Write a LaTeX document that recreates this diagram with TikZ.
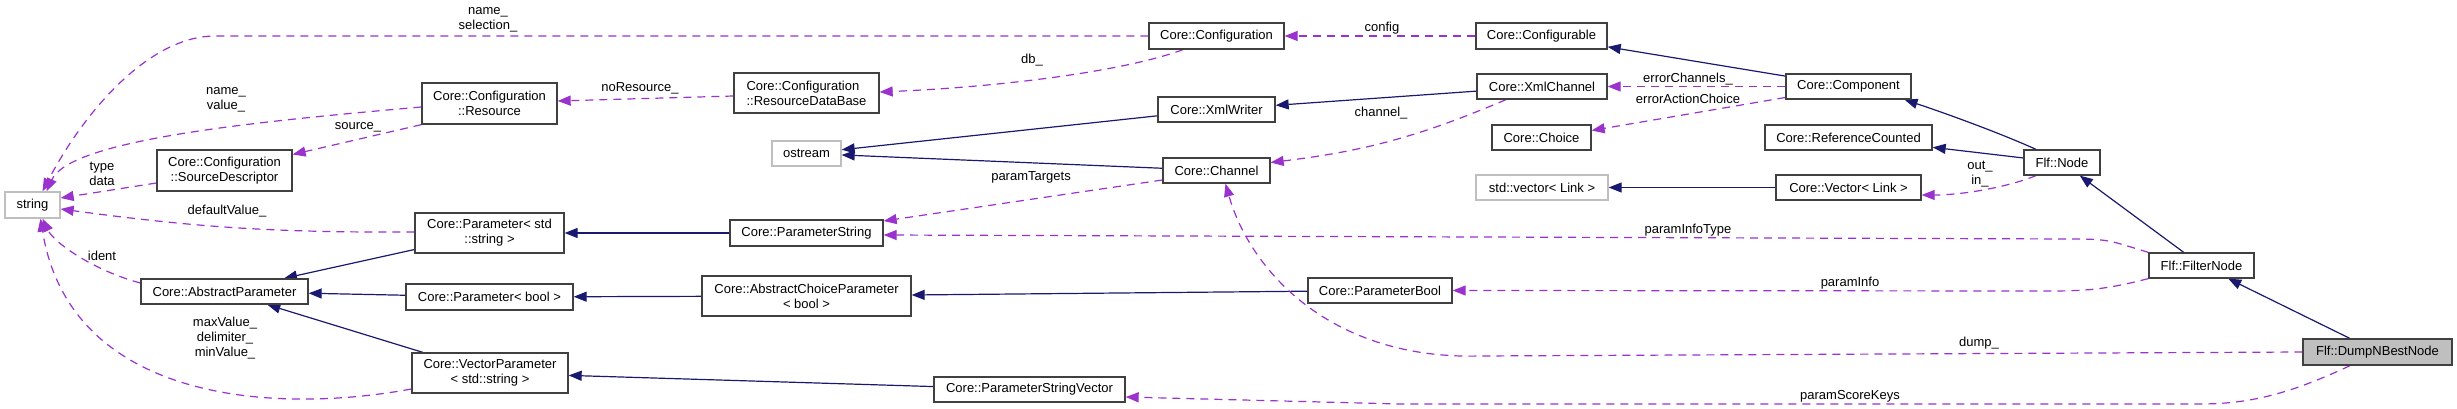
\documentclass[tikz,border=0pt]{standalone}
\usepackage{fontspec}
\setmainfont{Liberation Sans}
\usepackage{xcolor}
\usepackage{tikz}
\usetikzlibrary{arrows.meta}
\usetikzlibrary{backgrounds,positioning}
\pgfdeclarelayer{edgelayer}
\pgfdeclarelayer{nodelayer}
\pgfsetlayers{background,edgelayer,nodelayer,main}
\definecolor{inhblue}{HTML}{191970}
\definecolor{memviolet}{HTML}{9A32CD}
\definecolor{boxline}{HTML}{404040}
\definecolor{extgray}{HTML}{BFBFBF}
\tikzstyle{none}=[inner sep=0mm]
\tikzstyle{cls}=[draw=boxline,line width=1.3pt,fill=white,inner sep=0pt,align=center,font=\fontsize{13}{15}\selectfont]
\tikzstyle{ext}=[cls,draw=extgray]
\tikzstyle{focus}=[cls,fill=extgray]
\tikzstyle{lbl}=[none,align=center,font=\fontsize{13}{15}\selectfont]
\tikzstyle{inh}=[draw=inhblue,line width=1.2pt,-{Triangle[length=13pt,width=10pt]}]
\tikzstyle{mem}=[draw=memviolet,line width=1.2pt,dash pattern=on 8pt off 6pt,-{Triangle[length=13pt,width=10pt]}]

\begin{document}
\begin{tikzpicture}[x=1pt,y=-1pt]
	\useasboundingbox (0,0) rectangle (2457,409);
	\begin{pgfonlayer}{nodelayer}
		\node [style=ext, minimum width=55pt, minimum height=26pt] (string) at (32.5, 205) {string};
		\node [style=cls, minimum width=135pt, minimum height=41pt] (srcdesc) at (224.5, 170.5) {Core::Configuration\\::SourceDescriptor};
		\node [style=cls, minimum width=135pt, minimum height=41pt] (resource) at (489.5, 103.5) {Core::Configuration\\::Resource};
		\node [style=cls, minimum width=149pt, minimum height=40pt] (paramstr) at (489.5, 233) {Core::Parameter< std\\::string >};
		\node [style=cls, minimum width=167pt, minimum height=25pt] (absparam) at (224.5, 291.5) {Core::AbstractParameter};
		\node [style=cls, minimum width=167pt, minimum height=26pt] (parambool) at (489.5, 297) {Core::Parameter< bool >};
		\node [style=cls, minimum width=156pt, minimum height=40pt] (vecparam) at (490, 373) {Core::VectorParameter\\< std::string >};
		\node [style=cls, minimum width=145pt, minimum height=40pt, align=left] (resdb) at (806.5, 93) {Core::Configuration\\::ResourceDataBase};
		\node [style=ext, minimum width=69pt, minimum height=25pt] (ostream) at (806.5, 153.5) {ostream};
		\node [style=cls, minimum width=153pt, minimum height=26pt] (pstring) at (806.5, 233) {Core::ParameterString};
		\node [style=cls, minimum width=209pt, minimum height=40pt] (abschoice) at (806.5, 296) {Core::AbstractChoiceParameter\\< bool >};
		\node [style=cls, minimum width=191pt, minimum height=25pt] (pstrvec) at (1029.5, 389.5) {Core::ParameterStringVector};
		\node [style=cls, minimum width=135pt, minimum height=26pt] (config) at (1216.5, 36) {Core::Configuration};
		\node [style=cls, minimum width=117pt, minimum height=25pt] (xmlwriter) at (1216.5, 109.5) {Core::XmlWriter};
		\node [style=cls, minimum width=107pt, minimum height=25pt] (channel) at (1216.5, 170.5) {Core::Channel};
		\node [style=cls, minimum width=144pt, minimum height=25pt] (pbool) at (1380, 290.5) {Core::ParameterBool};
		\node [style=cls, minimum width=131pt, minimum height=26pt] (configurable) at (1541.5, 36) {Core::Configurable};
		\node [style=cls, minimum width=130pt, minimum height=25pt] (xmlchannel) at (1542, 86.5) {Core::XmlChannel};
		\node [style=cls, minimum width=99pt, minimum height=25pt] (choice) at (1541.5, 137.5) {Core::Choice};
		\node [style=ext, minimum width=132pt, minimum height=25pt] (stdvec) at (1542, 187.5) {std::vector< Link >};
		\node [style=cls, minimum width=125pt, minimum height=25pt] (component) at (1848.5, 86.5) {Core::Component};
		\node [style=cls, minimum width=167pt, minimum height=25pt] (refcount) at (1848.5, 137.5) {Core::ReferenceCounted};
		\node [style=cls, minimum width=145pt, minimum height=25pt] (corevec) at (1848.5, 187.5) {Core::Vector< Link >};
		\node [style=cls, minimum width=76pt, minimum height=25pt] (flfnode) at (2062, 162.5) {Flf::Node};
		\node [style=cls, minimum width=105pt, minimum height=25pt] (filternode) at (2201.5, 265.5) {Flf::FilterNode};
		\node [style=focus, minimum width=149pt, minimum height=26pt] (dumpnode) at (2377.5, 352) {Flf::DumpNBestNode};
		\node [style=lbl] (l_sel) at (488, 19.5) {name\_\\selection\_};
		\node [style=lbl] (l_nv) at (226, 100) {name\_\\value\_};
		\node [style=lbl] (l_src) at (358, 127) {source\_};
		\node [style=lbl] (l_td) at (102, 174) {type\\data};
		\node [style=lbl] (l_def) at (227, 211) {defaultValue\_};
		\node [style=lbl] (l_id) at (102, 256) {ident};
		\node [style=lbl] (l_mdm) at (225, 338) {maxValue\_\\delimiter\_\\minValue\_};
		\node [style=lbl] (l_nores) at (640, 88) {noResource\_};
		\node [style=lbl] (l_db) at (1032, 60) {db\_};
		\node [style=lbl] (l_cfg) at (1382, 28) {config};
		\node [style=lbl] (l_chan) at (1381, 113) {channel\_};
		\node [style=lbl] (l_targ) at (1031, 177) {paramTargets};
		\node [style=lbl] (l_errch) at (1688, 79) {errorChannels\_};
		\node [style=lbl] (l_erract) at (1688, 99) {errorActionChoice};
		\node [style=lbl] (l_ptype) at (1688, 230) {paramInfoType};
		\node [style=lbl] (l_pinfo) at (1850, 283) {paramInfo};
		\node [style=lbl] (l_score) at (1850, 396) {paramScoreKeys};
		\node [style=lbl] (l_io) at (1980, 174) {out\_\\in\_};
		\node [style=lbl] (l_dump) at (1979, 343) {dump\_};
	\end{pgfonlayer}
	\begin{pgfonlayer}{edgelayer}
		\draw[style=inh] (paramstr) to (absparam);
		\draw[style=inh] (parambool) to (absparam);
		\draw[style=inh] (vecparam) to (absparam);
		\draw[style=inh] (pstring) to (paramstr);
		\draw[style=inh] (abschoice) to (parambool);
		\draw[style=inh] (pstrvec) to (vecparam);
		\draw[style=inh] (xmlwriter) to (ostream);
		\draw[style=inh] (channel) to (ostream);
		\draw[style=inh] (xmlchannel) to (xmlwriter);
		\draw[style=inh] (pbool) to (abschoice);
		\draw[style=inh] (component) to (configurable);
		\draw[style=inh] (corevec) to (stdvec);
		\draw[style=inh] ([xshift=-26pt]flfnode.north) .. controls +(-40,-18) and +(36,12) .. ([xshift=56pt]component.south);
		\draw[style=inh] (flfnode) to (refcount);
		\draw[style=inh] (filternode) to (flfnode);
		\draw[style=inh] (dumpnode) to (filternode);
		\draw[style=mem] (config.west) -- (215,36) .. controls (150,36) and (85,110) .. ([xshift=10pt]string.north);
		\draw[style=mem] ([yshift=-3.5pt]resource.west) .. controls (250,122) and (70,140) .. ([xshift=14pt]string.north);
		\draw[style=mem] ([yshift=-12.5pt]srcdesc.west) to ([yshift=7pt]string.east);
		\draw[style=mem] ([yshift=1pt]paramstr.west) to[bend left=4] ([yshift=-4pt]string.east);
		\draw[style=mem] ([yshift=8.5pt]absparam.west) .. controls +(-45,-12) and +(12,25) .. ([xshift=10pt]string.south);
		\draw[style=mem] ([yshift=-16pt]vecparam.west) .. controls (270,415) and (70,400) .. ([xshift=8pt]string.south);
		\draw[style=mem] (resource.south west) to ([yshift=16pt]srcdesc.east);
		\draw[style=mem] ([yshift=-3pt]resdb.west) to ([yshift=2.5pt]resource.east);
		\draw[style=mem] ([xshift=-33.5pt]config.south) .. controls +(-60,22) and +(120,-5) .. ([yshift=1pt]resdb.east);
		\draw[style=mem] (configurable) to (config);
		\draw[style=mem] ([xshift=-36pt]xmlchannel.south) to[bend left=8] ([yshift=8pt]channel.east);
		\draw[style=mem] ([yshift=-9.5pt]channel.west) to ([yshift=12pt]pstring.east);
		\draw[style=mem] (component) to (xmlchannel);
		\draw[style=mem] ([yshift=-11pt]component.west) to ([yshift=7pt]choice.east);
		\draw[style=mem] ([xshift=-26pt]flfnode.south) .. controls +(-30,12) and +(40,0) .. ([yshift=-7.5pt]corevec.east);
		\draw[style=mem] (filternode.north west) .. controls +(-40,-12) and +(40,0) .. (2070,239) -- ([yshift=-2pt]pstring.east);
		\draw[style=mem] (filternode.south west) .. controls +(-40,10) and +(40,0) .. (2050,291) -- (pbool.east);
		\draw[style=mem] (dumpnode.west) -- (1480,356) .. controls (1330,360) and (1250,270) .. ([xshift=9pt]channel.south);
		\draw[style=mem] ([xshift=-27.5pt]dumpnode.south) .. controls +(-60,28) and +(50,0) .. (2200,404) -- (1400,404) -- ([yshift=-7.5pt]pstrvec.east);
	\end{pgfonlayer}
\end{tikzpicture}
\end{document}
